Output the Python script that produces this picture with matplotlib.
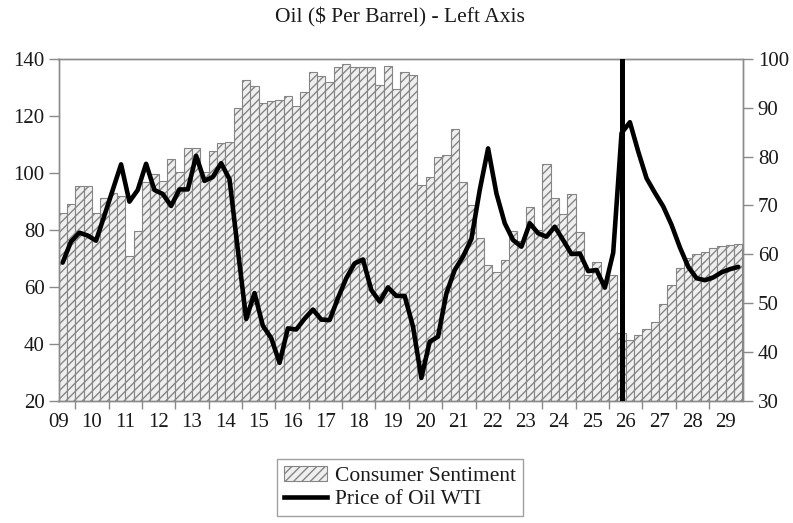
import matplotlib
matplotlib.use("Agg")
import matplotlib.pyplot as plt
import numpy as np
import pandas as pd
from matplotlib.patches import Patch
from matplotlib.lines import Line2D

# ---------------- data ----------------
start_quarter = "2009Q3"
forecast_marker = "2026Q2"

consumer_sentiment = [
    68.4, 70.3, 74.0, 74.0, 68.4, 71.5, 72.6, 72.0, 59.7, 64.8,
    74.9, 76.4, 75.0, 79.6, 76.8, 81.8, 81.8, 76.9, 81.2, 82.7,
    83.0, 89.9, 95.7, 94.4, 90.9, 91.4, 91.6, 92.5, 90.4, 93.2,
    97.4, 96.5, 95.2, 98.4, 98.9, 98.4, 98.3, 98.3, 94.75, 98.5,
    93.9, 97.4, 96.8, 74.2, 75.9, 80.0, 80.3, 85.7, 74.9, 70.1,
    63.4, 57.9, 56.4, 58.9, 64.7, 62.7, 69.7, 65.0, 78.5, 71.5,
    68.2, 72.3, 64.6, 55.7, 58.4, 54.5, 55.7, 43.8, 42.5, 43.5,
    44.6, 46.2, 49.8, 53.6, 57.1, 59.2, 60.0, 60.5, 61.2, 61.6,
    61.9, 62.0,
]

oil_wti = [
    68.5, 75.9, 79.0, 78.0, 76.2, 85.0, 94.0, 103.0, 89.9, 94.0,
    103.2, 94.0, 92.6, 88.4, 94.2, 94.2, 106.0, 97.2, 98.6, 103.4,
    97.8, 73.0, 48.7, 57.8, 46.3, 42.0, 33.3, 45.4, 45.0, 48.8,
    52.0, 48.5, 48.3, 56.0, 63.0, 68.2, 69.6, 58.9, 54.8, 59.8,
    56.8, 56.8, 46.0, 28.0, 40.7, 42.5, 57.7, 65.9, 70.6, 76.8,
    94.0, 108.6, 92.8, 82.3, 76.4, 74.1, 82.3, 78.8, 77.6, 81.1,
    76.4, 71.5, 71.7, 65.5, 65.9, 59.7, 72.0, 114.0, 117.8, 107.5,
    98.1, 93.0, 88.2, 81.7, 73.8, 67.0, 63.0, 62.3, 63.3, 65.1,
    66.2, 67.0,
]

year_labels = ["09", "10", "11", "12", "13", "14", "15", "16", "17", "18",
               "19", "20", "21", "22", "23", "24", "25", "26", "27", "28", "29"]

title_text = "Oil ($ Per Barrel) - Left Axis"
legend_labels = ["Consumer Sentiment", "Price of Oil WTI"]

# ---------------- derived positions ----------------
quarters = pd.period_range(start_quarter, periods=len(oil_wti), freq="Q")
xq = np.array([p.year + (p.quarter - 1) / 4 + 0.125 for p in quarters])
pm = pd.Period(forecast_marker, freq="Q")
x_marker = pm.year + (pm.quarter - 1) / 4 + 0.125
first_year = quarters[0].year
years = np.arange(first_year, first_year + len(year_labels))

# ---------------- style ----------------
plt.rcParams["font.family"] = ["Liberation Serif", "DejaVu Serif"]
plt.rcParams["hatch.linewidth"] = 1.0
text_color = "#1a1a1a"
spine_color = "#8a8a8a"
bar_edge = "#858585"
hatch = "////"

fig = plt.figure(figsize=(7.93, 5.23), dpi=100)
ax1 = fig.add_axes([58.5 / 793, 1 - 400.7 / 523, (742.5 - 58.5) / 793, (400.7 - 59) / 523])
ax2 = ax1.twinx()

# bars on the right axis
ax2.bar(xq, consumer_sentiment, width=0.25, color="#efefef", edgecolor=bar_edge,
        hatch=hatch, linewidth=0.8, zorder=1)
ax2.set_ylim(30, 100)
ax2.set_yticks(np.arange(30, 101, 10))

# oil line on left axis, drawn above
ax1.set_zorder(ax2.get_zorder() + 1)
ax1.patch.set_visible(False)
ax1.plot(xq, oil_wti, color="black", linewidth=3.3, solid_joinstyle="round",
         solid_capstyle="round", zorder=3)
ax1.axvline(x_marker, color="black", linewidth=3.6, zorder=4)
ax1.set_ylim(20, 140)
ax1.set_yticks(np.arange(20, 141, 20))

ax1.set_xlim(quarters[0].year + (quarters[0].quarter - 1) / 4,
             quarters[-1].year + quarters[-1].quarter / 4)
ax1.set_xticks(years[1:])
ax1.set_xticklabels([])
ax1.set_xticks(years + 0.5, minor=True)
ax1.set_xticklabels(year_labels, minor=True)

for ax in (ax1, ax2):
    for s in ax.spines.values():
        s.set_color(spine_color)
        s.set_linewidth(1.0)

ax1.tick_params(axis="y", which="major", direction="out", length=7, width=1,
                color=spine_color, labelsize=15, labelcolor=text_color, pad=3)
ax2.tick_params(axis="y", which="major", direction="out", length=7, width=1,
                color=spine_color, labelsize=15, labelcolor=text_color, pad=4)
ax1.tick_params(axis="x", which="major", direction="out", length=6, width=1,
                color=spine_color)
ax1.tick_params(axis="x", which="minor", length=0, labelsize=15,
                labelcolor=text_color, pad=9)

fig.text(0.5 * (58 + 742.5) / 793, 1 - 17 / 523, title_text, ha="center",
         va="center", fontsize=15.5, color=text_color)

handles = [Patch(facecolor="#efefef", edgecolor=bar_edge, hatch=hatch, linewidth=0.8),
           Line2D([0], [0], color="black", linewidth=3.3)]
leg = fig.legend(handles, legend_labels, loc="center",
                 bbox_to_anchor=(400 / 793, 1 - 487.5 / 523),
                 fontsize=15.5, frameon=True, fancybox=False, edgecolor=spine_color,
                 handlelength=2.0, handletextpad=0.4, borderpad=0.3,
                 labelspacing=0.15)
leg.get_frame().set_linewidth(1.0)
for t in leg.get_texts():
    t.set_color(text_color)

fig.savefig("out.png", dpi=100)
